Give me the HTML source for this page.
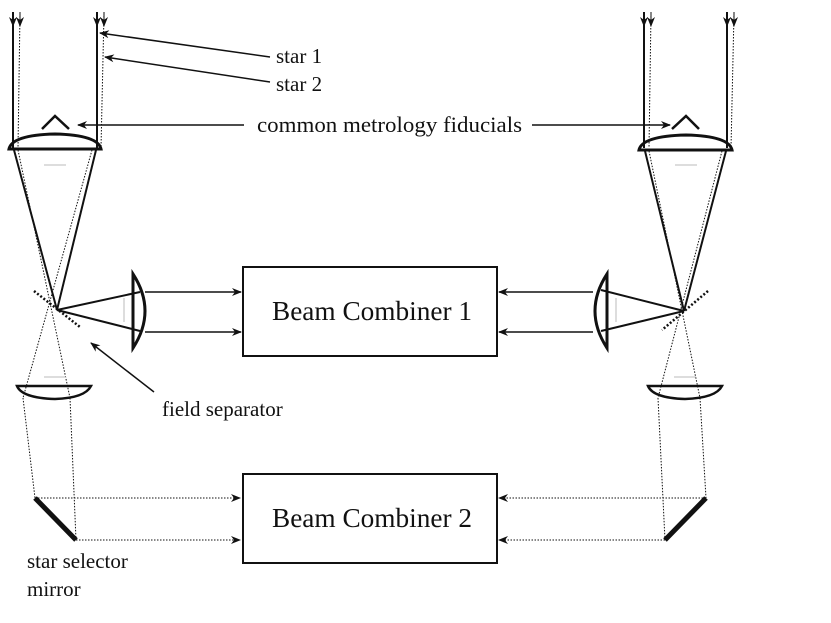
<!DOCTYPE html>
<html><head><meta charset="utf-8"><style>html,body{margin:0;padding:0;background:#fff}svg{display:block}text{font-family:"Liberation Serif",serif;fill:#111}</style></head><body>
<svg width="831" height="623" viewBox="0 0 831 623" xmlns="http://www.w3.org/2000/svg">
<defs>
<marker id="a" markerWidth="10" markerHeight="8" refX="9" refY="4" orient="auto" markerUnits="userSpaceOnUse"><path d="M0,0 L10,4 L0,8 L3,4 z" fill="#111"/></marker>
</defs>
<g stroke="#111" fill="none">
<!-- left telescope -->
<line x1="13" y1="13" x2="13" y2="148" stroke-width="2"/>
<line x1="13" y1="12" x2="13" y2="26" stroke-width="2" marker-end="url(#a)"/>
<line x1="97" y1="13" x2="97" y2="148" stroke-width="2"/>
<line x1="97" y1="12" x2="97" y2="26" stroke-width="2" marker-end="url(#a)"/>
<line x1="20" y1="13" x2="18" y2="148" stroke-width="1" stroke-dasharray="1.5,1.5"/>
<line x1="20" y1="12" x2="20" y2="26" stroke-width="1" marker-end="url(#a)"/>
<line x1="104" y1="13" x2="101" y2="148" stroke-width="1" stroke-dasharray="1.5,1.5"/>
<line x1="104" y1="12" x2="104" y2="26" stroke-width="1" marker-end="url(#a)"/>
<path d="M9,149 L101,149 Q98,135 55,134 Q12,135 9,149 Z" stroke-width="3"/>
<polyline points="42,129 55,116 69,129" stroke-width="2.5"/>
<line x1="14" y1="150" x2="57" y2="310" stroke-width="2"/>
<line x1="96" y1="150" x2="57" y2="310" stroke-width="2"/>
<g stroke-width="1" stroke-dasharray="1.5,1.5">
<line x1="18" y1="150" x2="70" y2="398"/>
<line x1="92" y1="150" x2="23" y2="398"/>
<line x1="23" y1="398" x2="35" y2="498"/>
<line x1="70" y1="398" x2="76" y2="540"/>
<line x1="35" y1="498" x2="240" y2="498" marker-end="url(#a)"/>
<line x1="76" y1="540" x2="240" y2="540" marker-end="url(#a)"/>
</g>
<line x1="34" y1="291" x2="80" y2="327" stroke-width="2.5" stroke-dasharray="2,2"/>
<line x1="57" y1="310" x2="140" y2="292" stroke-width="2"/>
<line x1="57" y1="310" x2="140" y2="331" stroke-width="2"/>
<path d="M133,274 L133,348 Q157,311 133,274 Z" stroke-width="3"/>
<line x1="124" y1="298" x2="124" y2="322" stroke-width="1" stroke="#bbb"/>
<line x1="145" y1="292" x2="241" y2="292" stroke-width="1.5" marker-end="url(#a)"/>
<line x1="145" y1="332" x2="241" y2="332" stroke-width="1.5" marker-end="url(#a)"/>
<path d="M17,386 L91,386 Q85,398 55,399 Q22,398 17,386 Z" stroke-width="2.5"/>
<line x1="35" y1="498" x2="76" y2="540" stroke-width="5"/>
<line x1="44" y1="165" x2="66" y2="165" stroke="#bbb" stroke-width="1"/>
<line x1="44" y1="377" x2="66" y2="377" stroke="#bbb" stroke-width="1"/>

<!-- right telescope -->
<line x1="644" y1="13" x2="644" y2="148" stroke-width="2"/>
<line x1="644" y1="12" x2="644" y2="26" stroke-width="2" marker-end="url(#a)"/>
<line x1="727" y1="13" x2="727" y2="148" stroke-width="2"/>
<line x1="727" y1="12" x2="727" y2="26" stroke-width="2" marker-end="url(#a)"/>
<line x1="651" y1="13" x2="649" y2="148" stroke-width="1" stroke-dasharray="1.5,1.5"/>
<line x1="651" y1="12" x2="651" y2="26" stroke-width="1" marker-end="url(#a)"/>
<line x1="734" y1="13" x2="731" y2="148" stroke-width="1" stroke-dasharray="1.5,1.5"/>
<line x1="734" y1="12" x2="734" y2="26" stroke-width="1" marker-end="url(#a)"/>
<path d="M639,150 L732,150 Q729,136 686,135 Q642,136 639,150 Z" stroke-width="3"/>
<polyline points="672,129 686,116 699,129" stroke-width="2.5"/>
<line x1="645" y1="151" x2="684" y2="311" stroke-width="2"/>
<line x1="726" y1="151" x2="684" y2="311" stroke-width="2"/>
<g stroke-width="1" stroke-dasharray="1.5,1.5">
<line x1="649" y1="151" x2="700" y2="398"/>
<line x1="722" y1="151" x2="658" y2="398"/>
<line x1="658" y1="398" x2="665" y2="540"/>
<line x1="700" y1="398" x2="706" y2="498"/>
<line x1="706" y1="498" x2="499" y2="498" marker-end="url(#a)"/>
<line x1="665" y1="540" x2="499" y2="540" marker-end="url(#a)"/>
</g>
<line x1="708" y1="291" x2="662" y2="330" stroke-width="2.5" stroke-dasharray="2,2"/>
<line x1="684" y1="311" x2="601" y2="290" stroke-width="2"/>
<line x1="684" y1="311" x2="601" y2="331" stroke-width="2"/>
<path d="M607,274 L607,348 Q583,311 607,274 Z" stroke-width="3"/>
<line x1="616" y1="298" x2="616" y2="322" stroke-width="1" stroke="#bbb"/>
<line x1="593" y1="292" x2="499" y2="292" stroke-width="1.5" marker-end="url(#a)"/>
<line x1="593" y1="332" x2="499" y2="332" stroke-width="1.5" marker-end="url(#a)"/>
<path d="M648,386 L722,386 Q716,398 685,399 Q653,398 648,386 Z" stroke-width="2.5"/>
<line x1="706" y1="498" x2="665" y2="540" stroke-width="5"/>
<line x1="675" y1="165" x2="697" y2="165" stroke="#bbb" stroke-width="1"/>
<line x1="674" y1="377" x2="696" y2="377" stroke="#bbb" stroke-width="1"/>

<!-- boxes -->
<rect x="243" y="267" width="254" height="89" stroke-width="2"/>
<rect x="243" y="474" width="254" height="89" stroke-width="2"/>

<!-- label arrows -->
<line x1="270" y1="57" x2="100" y2="33" stroke-width="1.5" marker-end="url(#a)"/>
<line x1="270" y1="82" x2="105" y2="57" stroke-width="1.5" marker-end="url(#a)"/>
<line x1="244" y1="125" x2="78" y2="125" stroke-width="1.5" marker-end="url(#a)"/>
<line x1="532" y1="125" x2="670" y2="125" stroke-width="1.5" marker-end="url(#a)"/>
<line x1="154" y1="392" x2="91" y2="343" stroke-width="1.5" marker-end="url(#a)"/>
</g>
<text x="276" y="63" font-size="21">star 1</text>
<text x="276" y="91" font-size="21">star 2</text>
<text x="257" y="132" font-size="22" textLength="265" lengthAdjust="spacingAndGlyphs">common metrology fiducials</text>
<text x="162" y="416" font-size="21">field separator</text>
<text x="272" y="320" font-size="27" textLength="200" lengthAdjust="spacingAndGlyphs">Beam Combiner 1</text>
<text x="272" y="527" font-size="27" textLength="200" lengthAdjust="spacingAndGlyphs">Beam Combiner 2</text>
<text x="27" y="568" font-size="21">star selector</text>
<text x="27" y="596" font-size="21">mirror</text>
</svg>
</body></html>
